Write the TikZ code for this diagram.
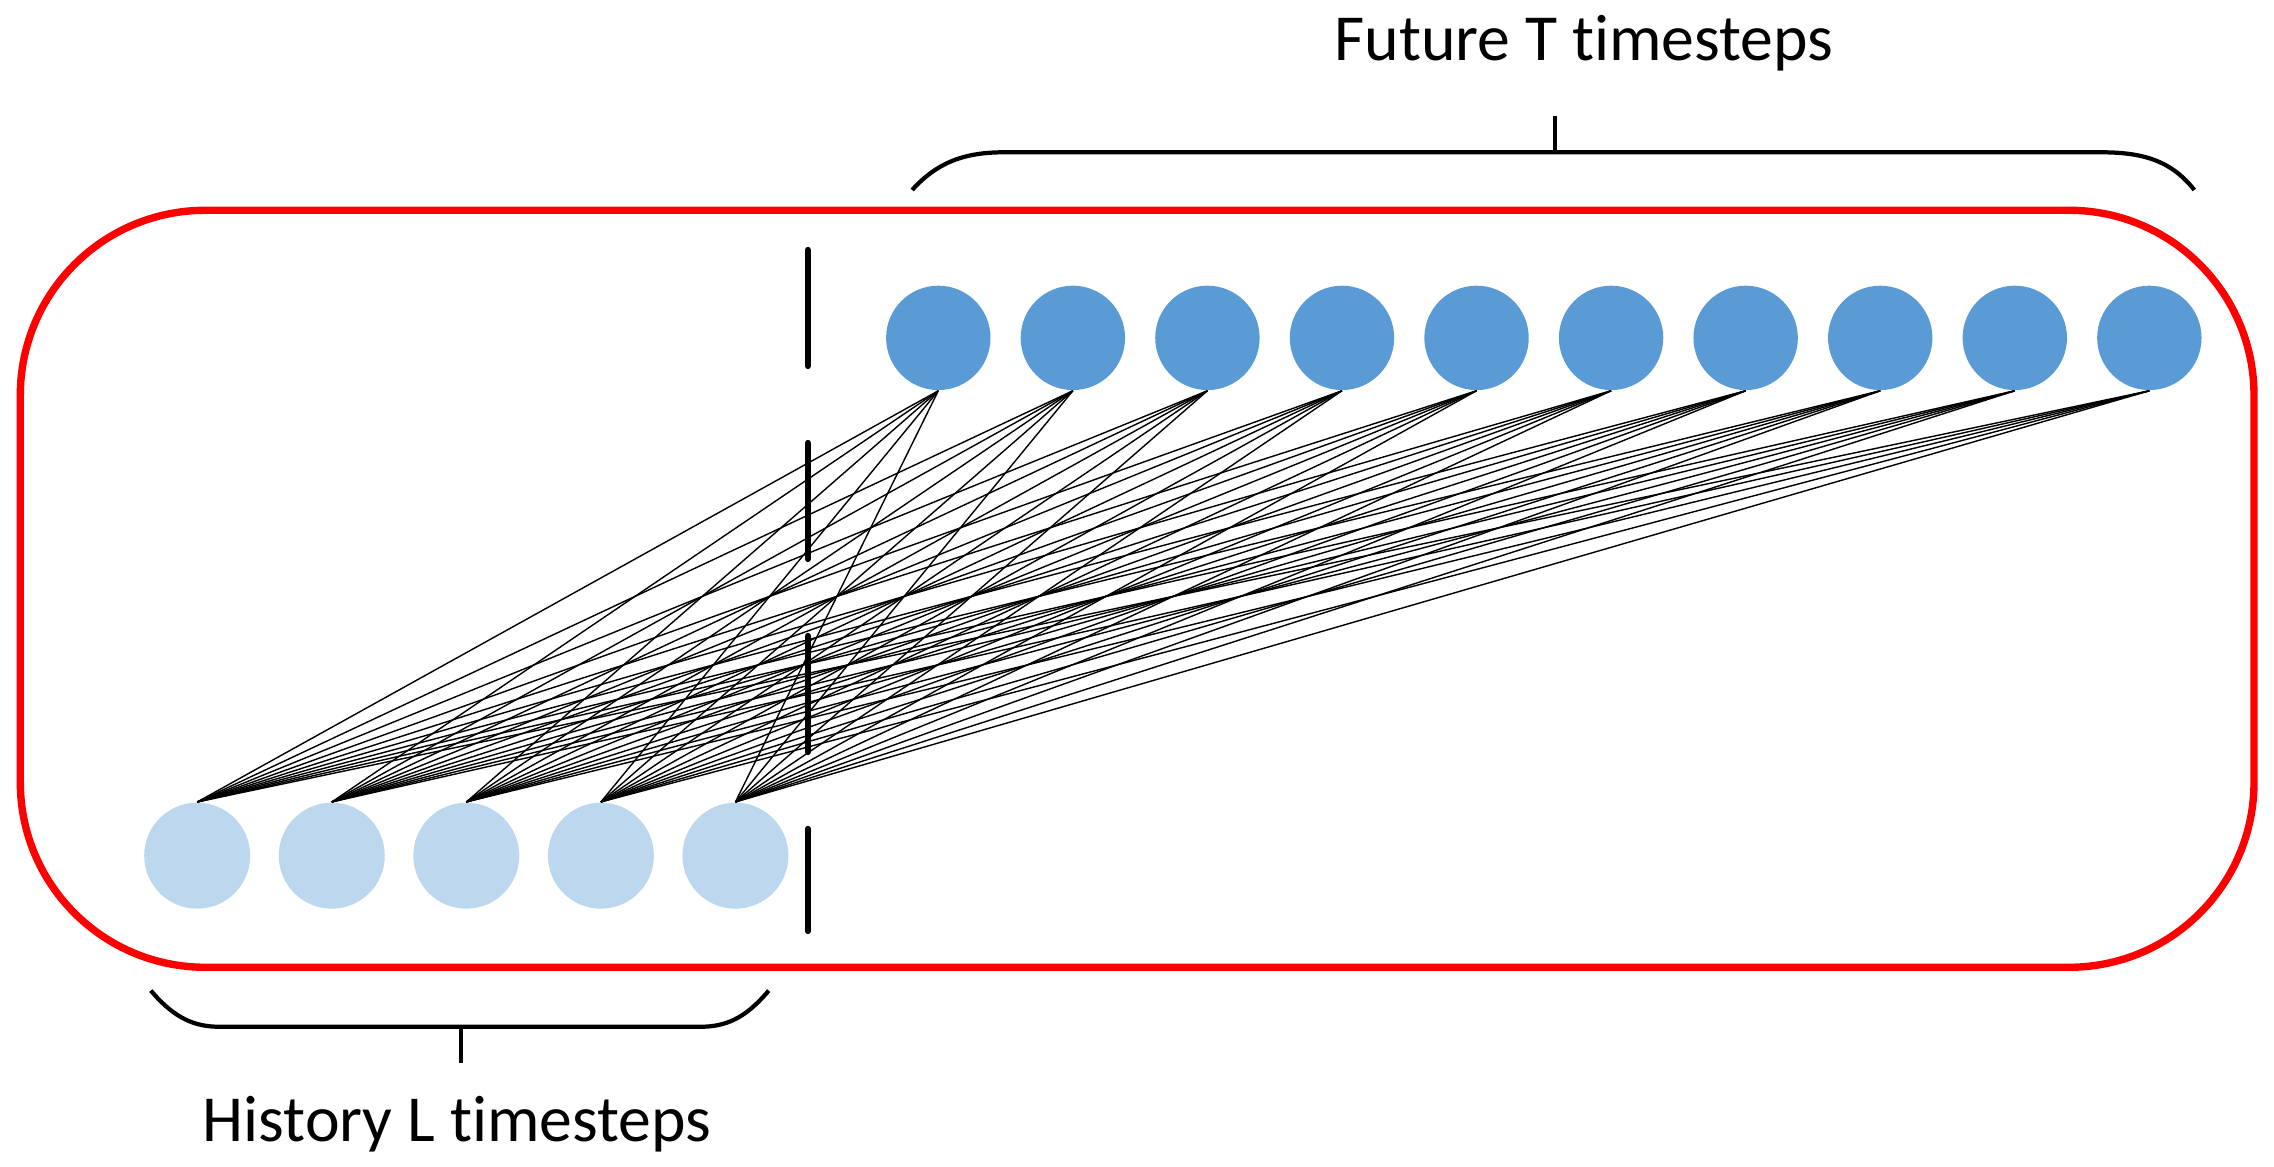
\documentclass[tikz,border=0pt]{standalone}
\usepackage{fontspec}
\setmainfont{Carlito}[Ligatures={NoCommon,NoRare,NoDiscretionary,NoContextual}]
\usetikzlibrary{math}
\definecolor{futblue}{RGB}{91,155,213}
\definecolor{histblue}{RGB}{189,215,238}
\definecolor{boxred}{RGB}{255,0,0}

\begin{document}
\begin{tikzpicture}[
  fut/.style={circle, fill=futblue, minimum size=1.044cm, inner sep=0pt},
  hist/.style={circle, fill=histblue, minimum size=1.06cm, inner sep=0pt},
  brace/.style={line width=1.2pt},
  steplbl/.style={font=\fontsize{18.7}{22}\selectfont, anchor=base}]
\tikzmath{
\dx=1.3456;
\xf=9.383;
\yf=8.291;
\xh=1.972;
\yh=3.113;
}
\useasboundingbox (0,0) rectangle (22.74,11.67);

%window
\draw[boxred, line width=2.1pt, rounded corners=1.85cm] (0.203,1.997) rectangle (22.54,9.567);

%future and history steps
\foreach \i in {1,...,10}{
  \node[fut] (fut\i) at ({\xf+(\i-1)*\dx},\yf) {};
}
\foreach \j in {1,...,5}{
  \node[hist] (hist\j) at ({\xh+(\j-1)*\dx},\yh) {};
}
\foreach \i in {1,...,10}{
  \foreach \j in {1,...,5}{
    \draw[line width=0.4pt] (fut\i.south) -- (hist\j.north);
  }
}

%divider
\draw[line width=1.8pt, line cap=round, dash pattern=on 1.16cm off 0.77cm] (8.078,9.17) -- (8.078,2.36);

%braces
\draw[brace] (9.122,9.77) .. controls (9.4,10.08) and (9.7,10.147) .. (10.05,10.147) -- (21.0,10.147) .. controls (21.4,10.147) and (21.7,10.08) .. (21.943,9.77);
\draw[brace] (15.547,10.147) -- (15.547,10.51);
\draw[brace] (1.508,1.764) .. controls (1.75,1.48) and (1.95,1.402) .. (2.2,1.402) -- (7.0,1.402) .. controls (7.25,1.402) and (7.45,1.48) .. (7.687,1.764);
\draw[brace] (4.612,1.402) -- (4.612,1.04);

\node[steplbl] (futlbl) at (15.84,11.06) {Future T timesteps};
\node[steplbl] (histlbl) at (4.57,0.256) {History L timesteps};
\end{tikzpicture}
\end{document}
